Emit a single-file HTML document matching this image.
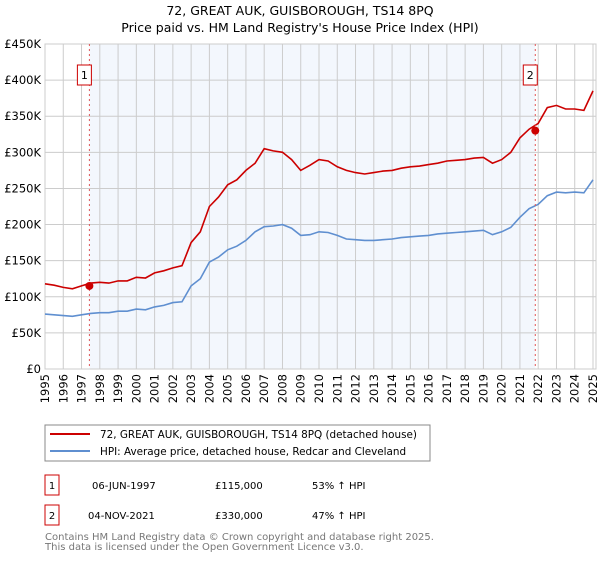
<!DOCTYPE html>
<html><head><meta charset="utf-8"><style>
body{margin:0;background:#fff;width:600px;height:560px;overflow:hidden;font-family:"DejaVu Sans","Liberation Sans",sans-serif;}
svg text{font-family:"DejaVu Sans","Liberation Sans",sans-serif;}
</style></head><body>
<svg id="chart" width="600" height="560" xmlns="http://www.w3.org/2000/svg">
<text x="300" y="15" text-anchor="middle" font-size="12.5" fill="#000">72, GREAT AUK, GUISBOROUGH, TS14 8PQ</text>
<text x="300" y="32" text-anchor="middle" font-size="12.5" fill="#000">Price paid vs. HM Land Registry's House Price Index (HPI)</text>
<g id="plot"></g>
<g>
<rect x="45" y="425" width="385" height="36" fill="#fff" stroke="#888"/>
<line x1="50" y1="434" x2="90" y2="434" stroke="#cc0000" stroke-width="2"/>
<text x="100" y="438" font-size="10.4">72, GREAT AUK, GUISBOROUGH, TS14 8PQ (detached house)</text>
<line x1="50" y1="451" x2="90" y2="451" stroke="#5f8fd0" stroke-width="2"/>
<text x="100" y="455" font-size="10.4">HPI: Average price, detached house, Redcar and Cleveland</text>
</g>
<g font-size="10">
<rect x="45" y="475" width="14" height="20" fill="#fff" stroke="#cc0000"/>
<text x="52" y="489" text-anchor="middle">1</text>
<text x="92" y="489">06-JUN-1997</text>
<text x="215" y="489">£115,000</text>
<text x="312" y="489">53% ↑ HPI</text>
<rect x="45" y="505" width="14" height="20" fill="#fff" stroke="#cc0000"/>
<text x="52" y="519" text-anchor="middle">2</text>
<text x="88" y="519">04-NOV-2021</text>
<text x="215" y="519">£330,000</text>
<text x="312" y="519">47% ↑ HPI</text>
</g>
<text x="45" y="540" font-size="10" fill="#777">Contains HM Land Registry data © Crown copyright and database right 2025.</text>
<text x="45" y="550" font-size="10" fill="#777">This data is licensed under the Open Government Licence v3.0.</text>
</svg>
<script>
const years=[1995,1995.5,1996,1996.5,1997,1997.5,1998,1998.5,1999,1999.5,2000,2000.5,2001,2001.5,2002,2002.5,2003,2003.5,2004,2004.5,2005,2005.5,2006,2006.5,2007,2007.5,2008,2008.5,2009,2009.5,2010,2010.5,2011,2011.5,2012,2012.5,2013,2013.5,2014,2014.5,2015,2015.5,2016,2016.5,2017,2017.5,2018,2018.5,2019,2019.5,2020,2020.5,2021,2021.5,2022,2022.5,2023,2023.5,2024,2024.5,2025];
const hpiValues=[76,75,74,73,75,77,78,78,80,80,83,82,86,88,92,93,115,125,148,155,165,170,178,190,197,198,200,195,185,186,190,189,185,180,179,178,178,179,180,182,183,184,185,187,188,189,190,191,192,186,190,196,210,222,228,240,245,244,245,244,262];
const priceValues=[118,116,113,111,115,119,120,119,122,122,127,126,133,136,140,143,175,190,225,238,255,262,275,285,305,302,300,290,275,282,290,288,280,275,272,270,272,274,275,278,280,281,283,285,288,289,290,292,293,285,290,300,320,332,340,362,365,360,360,358,385];
const sales=[[1997.43,115],[2021.84,330]];
const yTicks=[0,50,100,150,200,250,300,350,400,450];
const xTicks=[1995,1996,1997,1998,1999,2000,2001,2002,2003,2004,2005,2006,2007,2008,2009,2010,2011,2012,2013,2014,2015,2016,2017,2018,2019,2020,2021,2022,2023,2024,2025];
const L=45,R=596,T=44,B=369;
const xs=v=>45+(v-1995)*(593-45)/30;
const ys=v=>B-v*(B-T)/450;
const NS="http://www.w3.org/2000/svg";
const g=document.getElementById('plot');
function mk(tag,at,parent){const e=document.createElementNS(NS,tag);for(const k in at)e.setAttribute(k,at[k]);(parent||g).appendChild(e);return e;}
let e=mk('rect',{x:L,y:T,width:R-L,height:B-T,fill:'#fff'});


e=mk('rect',{x:xs(sales[0][0]),y:T,width:xs(sales[1][0])-xs(sales[0][0]),height:B-T,fill:'#eef3fc',opacity:0.7});


yTicks.forEach(v=>{
 const l=mk('line',{x1:L,x2:R,y1:ys(v),y2:ys(v),stroke:'#cccccc','stroke-width':1});
 
 
 const t=mk('text',{x:L-4,y:ys(v)+4,'text-anchor':'end','font-size':11.5});
 t.textContent=v===0?'£0':'£'+v+'K';
 
 
});
xTicks.forEach(v=>{
 const l=mk('line',{x1:xs(v),x2:xs(v),y1:T,y2:B,stroke:'#cccccc','stroke-width':1});
 
 
 const x=xs(v)+4,y=374;
 const t=mk('text',{x:x,y:y,'text-anchor':'end','font-size':11.5,transform:'rotate(-90 '+x+' '+y+')'});
 t.textContent=v;
 
 
});
e=mk('rect',{x:L,y:T,width:R-L,height:B-T,fill:'none',stroke:'#ccc'});


function path(vals){return vals.map((v,i)=>(i?'L':'M')+xs(years[i]).toFixed(1)+','+ys(v).toFixed(1)).join(' ');}
e=mk('path',{d:path(hpiValues),fill:'none',stroke:'#5f8fd0','stroke-width':1.6});


e=mk('path',{d:path(priceValues),fill:'none',stroke:'#cc0000','stroke-width':1.6});


sales.forEach((s,i)=>{
 const l=mk('line',{x1:xs(s[0]),x2:xs(s[0]),y1:T,y2:B,stroke:'#e05555','stroke-dasharray':'2,3','stroke-width':1});
 
 
 const c=mk('circle',{cx:xs(s[0]),cy:ys(s[1]),r:4,fill:'#cc0000'});
 
 
 const b=mk('rect',{x:xs(s[0])-12,y:65,width:14,height:20,fill:'#fff',stroke:'#cc0000'});
 
 
 const t=mk('text',{x:xs(s[0])-5,y:79,'text-anchor':'middle','font-size':11});
 t.textContent=String(i+1);
 
 
});
</script>
</body></html>
